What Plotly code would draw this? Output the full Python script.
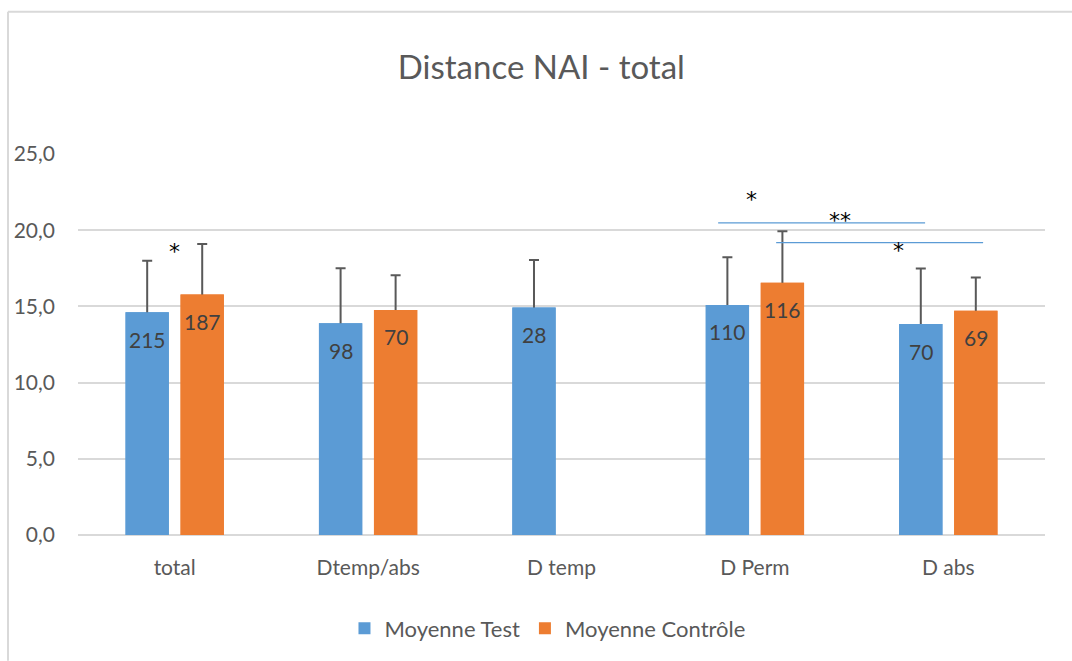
import plotly.graph_objects as go

categories = ["total", "Dtemp/abs", "D temp", "D Perm", "D abs"]
test_mean = [14.62, 13.9, 14.93, 15.1, 13.84]
test_err_top = [18.0, 17.5, 18.04, 18.23, 17.48]
control_mean = [15.78, 14.77, None, 16.56, 14.71]
control_err_top = [19.1, 17.05, None, 19.93, 16.89]
test_n = ["215", "98", "28", "110", "70"]
control_n = ["187", "70", "", "116", "69"]

# significance marks: (x position on category axis, y value, text)
sig_marks = [(0.0, 18.6, "*"), (2.98, 22.0, "*"), (3.44, 20.65, "**"), (3.74, 18.7, "*")]
# significance lines: (x0, x1, y)
sig_lines = [(2.81, 3.88, 20.48), (3.11, 4.18, 19.18)]

BLUE = "#5B9BD5"
ORANGE = "#ED7D31"
FONT = "Lato"

test_err = [t - m for t, m in zip(test_err_top, test_mean)]
ctrl_err = [(t - m) if m is not None else None for t, m in zip(control_err_top, control_mean)]

err_style = dict(type="data", symmetric=True, color="#595959", thickness=2, width=5)

fig = go.Figure()
# bars carrying the error bars (lower half hidden under the covering bars)
fig.add_trace(go.Bar(
    name="Moyenne Test", x=categories, y=test_mean, offsetgroup="test", showlegend=False,
    marker=dict(color=BLUE, line=dict(width=0)), error_y=dict(array=test_err, **err_style),
    hoverinfo="skip",
))
fig.add_trace(go.Bar(
    name="Moyenne Contrôle", x=categories, y=control_mean, offsetgroup="ctrl", showlegend=False,
    marker=dict(color=ORANGE, line=dict(width=0)), error_y=dict(array=ctrl_err, **err_style),
    hoverinfo="skip",
))
# visible bars
fig.add_trace(go.Bar(
    name="Moyenne Test", x=categories, y=test_mean, offsetgroup="test",
    marker=dict(color=BLUE, line=dict(width=0)),
))
fig.add_trace(go.Bar(
    name="Moyenne Contrôle", x=categories, y=control_mean, offsetgroup="ctrl",
    marker=dict(color=ORANGE, line=dict(width=0)),
))

bargap = 0.431
bargroupgap = 0.213
offset = (1 - bargap) / 4

annotations = []
for i, (v, n) in enumerate(zip(test_mean, test_n)):
    annotations.append(dict(x=i - offset, y=v, text=n, showarrow=False, yshift=-27,
                            font=dict(size=21, color="#404040", family=FONT)))
for i, (v, n) in enumerate(zip(control_mean, control_n)):
    if v is None:
        continue
    annotations.append(dict(x=i + offset, y=v, text=n, showarrow=False, yshift=-27,
                            font=dict(size=21, color="#404040", family=FONT)))
for x, y, t in sig_marks:
    annotations.append(dict(x=x, y=y, text=t, showarrow=False,
                            font=dict(size=22, color="black", family="DejaVu Sans")))

shapes = []
for x0, x1, y in sig_lines:
    shapes.append(dict(type="line", xref="x", yref="y", x0=x0, x1=x1, y0=y, y1=y,
                       line=dict(color=BLUE, width=1.2)))
# outer chart border (top and left edges visible in the picture)
shapes.append(dict(type="line", xref="paper", yref="paper", x0=-0.0724, x1=1.03, y0=1.3734, y1=1.3734,
                   line=dict(color="#D9D9D9", width=2), layer="below"))
shapes.append(dict(type="line", xref="paper", yref="paper", x0=-0.0724, x1=-0.0724, y0=-0.33, y1=1.3734,
                   line=dict(color="#D9D9D9", width=2), layer="below"))

fig.update_layout(
    width=1072, height=661,
    margin=dict(l=78, r=27, t=154, b=124),
    paper_bgcolor="white", plot_bgcolor="white",
    separators=", ",
    barmode="group", bargap=bargap, bargroupgap=bargroupgap,
    title=dict(text="Distance NAI - total", x=0.505, xanchor="center", y=0.898, yanchor="middle",
               font=dict(size=33, color="#595959", family=FONT)),
    font=dict(family=FONT, color="#595959"),
    showlegend=True,
    legend=dict(orientation="h", x=0.4855, xanchor="center", y=-0.245, yanchor="middle",
                font=dict(size=22, color="#595959", family=FONT), traceorder="normal",
                itemwidth=30),
    annotations=annotations,
    shapes=shapes,
)
fig.update_yaxes(range=[0, 25], dtick=5, tickformat=".1f", showgrid=True, gridcolor="#D9D9D9",
                 gridwidth=1.5, zeroline=True, zerolinecolor="#D9D9D9", zerolinewidth=1.5,
                 showline=False, ticks="", tickfont=dict(size=21, color="#595959"), ticklabelstandoff=22)
fig.update_xaxes(showgrid=False, showline=False, ticks="", tickfont=dict(size=21, color="#595959"),
                 ticklabelstandoff=18)

fig.write_html(
    "out.html", config={"displayModeBar": False},
    post_script="document.body.style.margin='0';document.body.style.overflow='hidden';"
                "document.documentElement.style.overflow='hidden';",
)
